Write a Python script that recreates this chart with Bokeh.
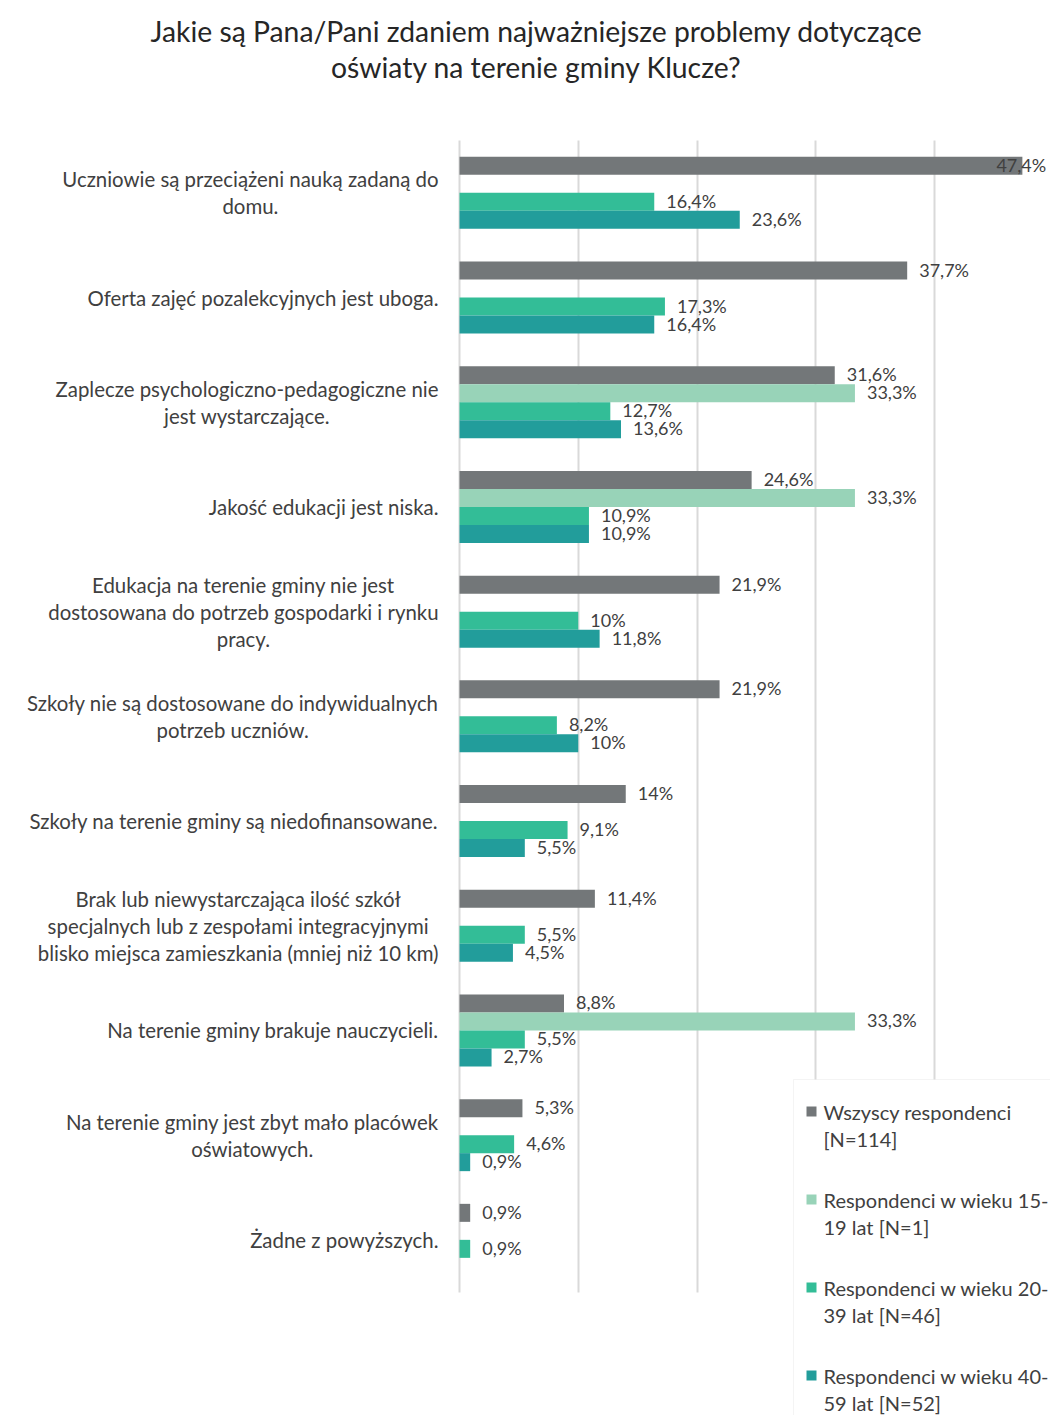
from bokeh.plotting import figure
from bokeh.models import Range1d, FixedTicker, BoxAnnotation, ColumnDataSource
from bokeh.core.properties import value
from bokeh.embed import file_html
from bokeh.resources import INLINE

# ---------------- data ----------------
title_lines = ["Jakie są Pana/Pani zdaniem najważniejsze problemy dotyczące",
               "oświaty na terenie gminy Klucze?"]

categories = [
    "Uczniowie są przeciążeni nauką zadaną do\ndomu.",
    "Oferta zajęć pozalekcyjnych jest uboga.",
    "Zaplecze psychologiczno-pedagogiczne nie\njest wystarczające.",
    "Jakość edukacji jest niska.",
    "Edukacja na terenie gminy nie jest\ndostosowana do potrzeb gospodarki i rynku\npracy.",
    "Szkoły nie są dostosowane do indywidualnych\npotrzeb uczniów.",
    "Szkoły na terenie gminy są niedofinansowane.",
    "Brak lub niewystarczająca ilość szkół\nspecjalnych lub z zespołami integracyjnymi\nblisko miejsca zamieszkania (mniej niż 10 km)",
    "Na terenie gminy brakuje nauczycieli.",
    "Na terenie gminy jest zbyt mało placówek\noświatowych.",
    "Żadne z powyższych.",
]

series_names = [
    "Wszyscy respondenci\n[N=114]",
    "Respondenci w wieku 15-\n19 lat [N=1]",
    "Respondenci w wieku 20-\n39 lat [N=46]",
    "Respondenci w wieku 40-\n59 lat [N=52]",
]

all_respondents = [47.4, 37.7, 31.6, 24.6, 21.9, 21.9, 14.0, 11.4, 8.8, 5.3, 0.9]
age_15_19 = [None, None, 33.3, 33.3, None, None, None, None, 33.3, None, None]
age_20_39 = [16.4, 17.3, 12.7, 10.9, 10.0, 8.2, 9.1, 5.5, 5.5, 4.6, 0.9]
age_40_59 = [23.6, 16.4, 13.6, 10.9, 11.8, 10.0, 5.5, 4.5, 2.7, 0.9, None]

series_values = [all_respondents, age_15_19, age_20_39, age_40_59]
series_colors = ["#737779", "#98D3B8", "#33BD97", "#229D9B"]

grid_ticks = [0, 10, 20, 30, 40]

# ---------------- layout ----------------
FONT = "Lato"
TXT = "#404040"
PX_PER_PCT = 11.875
PX_PER_GROUP = 104.7
W, H = 1050, 1415
PAGE_X0, PAGE_Y0 = 459, 140  # position of 0% / top of first group on page


def px_to_x(px):
    return (px - PAGE_X0) / PX_PER_PCT


def px_to_y(py):
    return (py - PAGE_Y0) / PX_PER_GROUP


def fmt(v):
    if abs(v - round(v)) < 1e-9:
        return f"{int(round(v))}%"
    return f"{v:.1f}".replace(".", ",") + "%"


p = figure(width=W, height=H,
           x_range=Range1d(px_to_x(0), px_to_x(W)),
           y_range=Range1d(px_to_y(H), px_to_y(0)),
           output_backend="svg", toolbar_location=None,
           x_axis_location=None, y_axis_location=None,
           min_border=0, min_border_left=0, min_border_right=0,
           min_border_top=0, min_border_bottom=0)
p.outline_line_color = None
p.ygrid.visible = False
p.xgrid.ticker = FixedTicker(ticks=grid_ticks)
p.xgrid.grid_line_color = "#D9D9D9"
p.xgrid.grid_line_width = 2
p.xgrid.cross_bounds = (0, len(categories))

# legend background box (covers grid, below bars)
legend_box = BoxAnnotation(left=px_to_x(793), top=px_to_y(1079),
                           right=px_to_x(W + 10), bottom=px_to_y(H + 10),
                           fill_color="white", fill_alpha=1.0,
                           line_color="#D9D9D9", line_width=1, level="underlay")
p.add_layout(legend_box)

h = 18.0 / PX_PER_GROUP
for j, (vals, col) in enumerate(zip(series_values, series_colors)):
    ys, vs, labels, xo = [], [], [], []
    for i, v in enumerate(vals):
        if v is None:
            continue
        ys.append(i + 0.5 + (j - 1.5) * h)
        vs.append(v)
        labels.append(fmt(v))
        xo.append(12 if PAGE_X0 + v * PX_PER_PCT + 70 < W else -26)
    src = ColumnDataSource(dict(y=ys, v=vs, lbl=labels, xo=xo))
    p.hbar(y="y", left=0, right="v", height=h, fill_color=col, line_color=None, source=src)
    p.text(x="v", y="y", text="lbl", x_offset="xo", y_offset=-1, source=src,
           text_align="left", text_baseline="middle",
           text_font=value(FONT), text_font_size="18px", text_color=TXT)

# category labels
cat_src = ColumnDataSource(dict(x=[px_to_x(438)] * len(categories),
                                y=[i + 0.5 for i in range(len(categories))],
                                t=categories))
p.text(x="x", y="y", text="t", source=cat_src,
       anchor="center_right", text_align="center", text_baseline="middle",
       text_font=value(FONT), text_font_size="20.4px",
       text_line_height=1.12, text_color=TXT)

# title
p.text(x=[px_to_x(536)], y=[px_to_y(48.5)], text=["\n".join(title_lines)],
       anchor="center", text_align="center", text_baseline="middle",
       text_font=value(FONT), text_font_size="28.3px",
       text_line_height=1.08, text_color="#262626")

# legend
for k, (name, col) in enumerate(zip(series_names, series_colors)):
    y1 = 1111 + 88 * k
    p.scatter(x=[px_to_x(811)], y=[px_to_y(y1)], marker="square", size=10,
              fill_color=col, line_color=None)
    lines = name.split("\n")
    p.text(x=[px_to_x(823)] * len(lines), y=[px_to_y(y1 + 27 * m) for m in range(len(lines))],
           text=lines, text_align="left", text_baseline="middle",
           text_font=value(FONT), text_font_size="20px", text_color=TXT)

open("out.html", "w").write(file_html(p, INLINE))
